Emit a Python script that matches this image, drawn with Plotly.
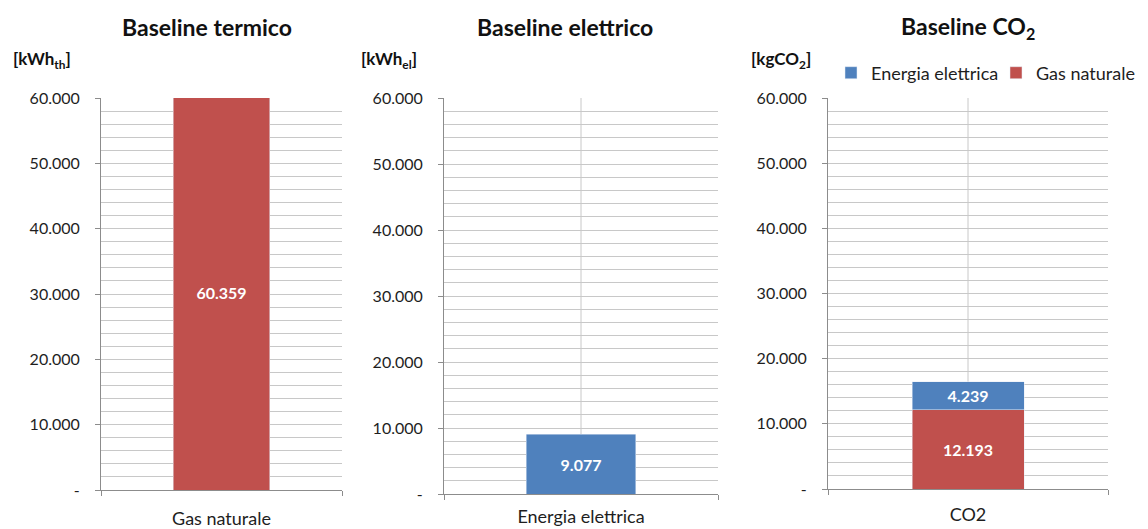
import plotly.graph_objects as go

# ---------------- data ----------------
titles = ["Baseline termico", "Baseline elettrico", "Baseline CO<sub>2</sub>"]
units = ["[kWh<sub>th</sub>]", "[kWh<sub>el</sub>]", "[kgCO<sub>2</sub>]"]

cat_termico = ["Gas naturale"]
val_termico = [60359]

cat_elettrico = ["Energia elettrica"]
val_elettrico = [9077]

cat_co2 = ["CO2"]
co2_gas = [12193]
co2_el = [4239]

tick_values = [0, 10000, 20000, 30000, 40000, 50000, 60000]
tick_labels = ["-", "10.000", "20.000", "30.000", "40.000", "50.000", "60.000"]

# ---------------- style ----------------
# the page body has an 8px margin, so the figure is drawn 8px smaller and
# all screen positions below are converted with that offset
OFF = 8
W, H = 1148 - OFF, 529 - OFF
RED = "#C0504D"
BLUE = "#4F81BD"
GRID = "#C8C8C8"
AXIS = "#8C8C8C"
FONT = "Lato, Carlito, Calibri, sans-serif"
TXT = "#1e1e1e"


def px_x(p):
    return (p - OFF) / W


def px_y(p):
    return 1 - (p - OFF) / H


# panel geometry in screen pixels: (x_left, x_right, y_top, y_bottom)
panels = [
    (101, 342, 98, 490),
    (444, 718, 98, 494),
    (828, 1108, 98, 489),
]
xlabel_standoff = [12, 6, 9]

fig = go.Figure()

txt_font = dict(family=FONT, size=16, color="white")
common_bar = dict(width=0.4, textposition="inside", insidetextanchor="middle",
                  textangle=0, texttemplate="<b>%{y:,.0f}</b>",
                  textfont=txt_font, hoverinfo="skip")

fig.add_trace(go.Bar(x=cat_termico, y=val_termico, marker_color=RED,
                     showlegend=False, xaxis="x", yaxis="y", **common_bar))
fig.add_trace(go.Bar(x=cat_elettrico, y=val_elettrico, marker_color=BLUE,
                     showlegend=False, xaxis="x2", yaxis="y2", **common_bar))
fig.add_trace(go.Bar(x=cat_co2, y=co2_gas, marker_color=RED, name="Gas naturale",
                     showlegend=True, xaxis="x3", yaxis="y3", **common_bar))
fig.add_trace(go.Bar(x=cat_co2, y=co2_el, marker_color=BLUE, name="Energia elettrica",
                     showlegend=True, xaxis="x3", yaxis="y3", **common_bar))

layout = dict(
    width=W, height=H,
    margin=dict(l=0, r=0, t=0, b=0, autoexpand=False),
    paper_bgcolor="white", plot_bgcolor="white",
    barmode="stack",
    separators=",.",
    font=dict(family=FONT, size=16, color=TXT),
    legend=dict(orientation="h", x=px_x(831), y=px_y(73), xanchor="left", yanchor="middle",
                traceorder="reversed", font=dict(size=18, family=FONT, color=TXT),
                bgcolor="rgba(0,0,0,0)", itemwidth=30, tracegroupgap=0,
                entrywidth=120, entrywidthmode="pixels"),
)

annotations = []
shapes = []
cats_all = [cat_termico, cat_elettrico, cat_co2]
title_x = [207, 565, 968]
unit_x = [11, 359, 749]
for i, (xl, xr, yt, yb) in enumerate(panels):
    sfx = "" if i == 0 else str(i + 1)
    xa = dict(
        domain=[px_x(xl), px_x(xr)],
        anchor="y" + sfx,
        type="category",
        range=[-0.5, 0.5],
        tickson="boundaries",
        ticks="outside", ticklen=5, tickcolor=AXIS,
        ticklabelstandoff=xlabel_standoff[i],
        showline=True, linecolor=AXIS, linewidth=1,
        showgrid=(i != 0), gridcolor=GRID, gridwidth=1,
        tickfont=dict(size=18, family=FONT, color=TXT),
        automargin=False,
        fixedrange=True,
    )
    ya = dict(
        domain=[px_y(yb), px_y(yt)],
        anchor="x" + sfx,
        range=[0, 60000],
        tickvals=tick_values, ticktext=tick_labels,
        ticks="outside", ticklen=5, tickcolor=AXIS,
        ticklabelstandoff=12,
        showline=True, linecolor=AXIS, linewidth=1,
        showgrid=True, gridcolor=GRID, gridwidth=1,
        minor=dict(dtick=2000, showgrid=True, gridcolor=GRID, gridwidth=1, ticks=""),
        zeroline=False,
        tickfont=dict(size=16, family=FONT, color=TXT),
        automargin=False,
        fixedrange=True,
    )
    layout["xaxis" + sfx] = xa
    layout["yaxis" + sfx] = ya

    if i != 0:
        # vertical gridline at category centre
        shapes.append(dict(type="line", xref="x" + sfx, yref="y" + sfx + " domain",
                           x0=cats_all[i][0], x1=cats_all[i][0], y0=0, y1=1,
                           line=dict(color=GRID, width=1), layer="below"))

    annotations.append(dict(text="<b>" + titles[i] + "</b>", xref="paper", yref="paper",
                            x=px_x(title_x[i]), y=px_y(27), xanchor="center", yanchor="middle",
                            showarrow=False, font=dict(size=23, family=FONT, color="#111111")))
    annotations.append(dict(text="<b>" + units[i] + "</b>", xref="paper", yref="paper",
                            x=px_x(unit_x[i]), y=px_y(60), xanchor="left", yanchor="middle",
                            showarrow=False, font=dict(size=17, family=FONT, color="#111111")))

layout["annotations"] = annotations
layout["shapes"] = shapes
fig.update_layout(**layout)

fig.write_html("out.html")
